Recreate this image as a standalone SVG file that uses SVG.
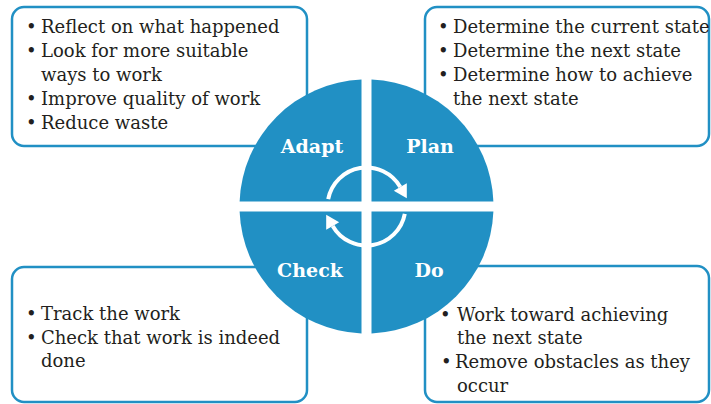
<svg xmlns="http://www.w3.org/2000/svg" width="711" height="404" viewBox="0 0 711 404">
<style>
.box{fill:#fff;stroke:#2190c4;stroke-width:2.5}
.q{fill:#2190c4}
.t{font-family:"DejaVu Serif","Liberation Serif",serif;font-size:18px;fill:#231f20}
.lbl{font-family:"DejaVu Serif","Liberation Serif",serif;font-size:19px;font-weight:bold;fill:#fff;text-anchor:middle}
.arc{fill:none;stroke:#fff;stroke-width:4}
</style>
<defs>
<marker id="ah" markerUnits="userSpaceOnUse" markerWidth="16" markerHeight="16" refX="0" refY="0" viewBox="0 -8 14 16" orient="auto">
<path d="M0,-7.5 L13,0 L0,7.5 z" fill="#fff"/>
</marker>
</defs>
<g id="box-adapt">
<rect class="box" x="12" y="7" width="295" height="139" rx="12"/>
<text class="t"><tspan x="26" y="33">•</tspan><tspan x="41" y="33">Reflect on what happened</tspan><tspan x="26" y="57">•</tspan><tspan x="41" y="57">Look for more suitable</tspan><tspan x="41" y="81">ways to work</tspan><tspan x="26" y="105">•</tspan><tspan x="41" y="105">Improve quality of work</tspan><tspan x="26" y="129">•</tspan><tspan x="41" y="129">Reduce waste</tspan></text>
</g>
<g id="box-plan">
<rect class="box" x="425" y="7" width="284" height="139" rx="12"/>
<text class="t"><tspan x="438" y="33">•</tspan><tspan x="453" y="33">Determine the current state</tspan><tspan x="438" y="57">•</tspan><tspan x="453" y="57">Determine the next state</tspan><tspan x="438" y="81">•</tspan><tspan x="453" y="81">Determine how to achieve</tspan><tspan x="453" y="105">the next state</tspan></text>
</g>
<g id="box-check">
<rect class="box" x="12" y="267" width="295" height="135" rx="12"/>
<text class="t"><tspan x="26" y="320">•</tspan><tspan x="41" y="320">Track the work</tspan><tspan x="26" y="344">•</tspan><tspan x="41" y="344">Check that work is indeed</tspan><tspan x="41" y="367">done</tspan></text>
</g>
<g id="box-do">
<rect class="box" x="425" y="266" width="284" height="136" rx="12"/>
<text class="t"><tspan x="440" y="321">•</tspan><tspan x="457" y="321">Work toward achieving</tspan><tspan x="457" y="344">the next state</tspan><tspan x="441" y="368">•</tspan><tspan x="455" y="368">Remove obstacles as they</tspan><tspan x="457" y="392">occur</tspan></text>
</g>
<g id="adapt">
<path class="q" d="M361.5,201.5 L239.6,201.5 A127,127 0 0 1 361.5,79.6 Z"/>
<text class="lbl" x="312" y="153">Adapt</text>
</g>
<g id="plan">
<path class="q" d="M371.5,201.5 L371.5,79.6 A127,127 0 0 1 493.4,201.5 Z"/>
<text class="lbl" x="430" y="153">Plan</text>
</g>
<g id="do">
<path class="q" d="M371.5,211.5 L493.4,211.5 A127,127 0 0 1 371.5,333.4 Z"/>
<text class="lbl" x="429" y="277">Do</text>
</g>
<g id="check">
<path class="q" d="M361.5,211.5 L361.5,333.4 A127,127 0 0 1 239.6,211.5 Z"/>
<text class="lbl" x="310" y="277">Check</text>
</g>
<g id="connectors">
<path class="arc" marker-end="url(#ah)" d="M328.2,199.1 A39,39 0 0 1 400.3,187"/>
<path class="arc" marker-end="url(#ah)" d="M404.8,213.9 A39,39 0 0 1 332.7,226"/>
</g>
</svg>
